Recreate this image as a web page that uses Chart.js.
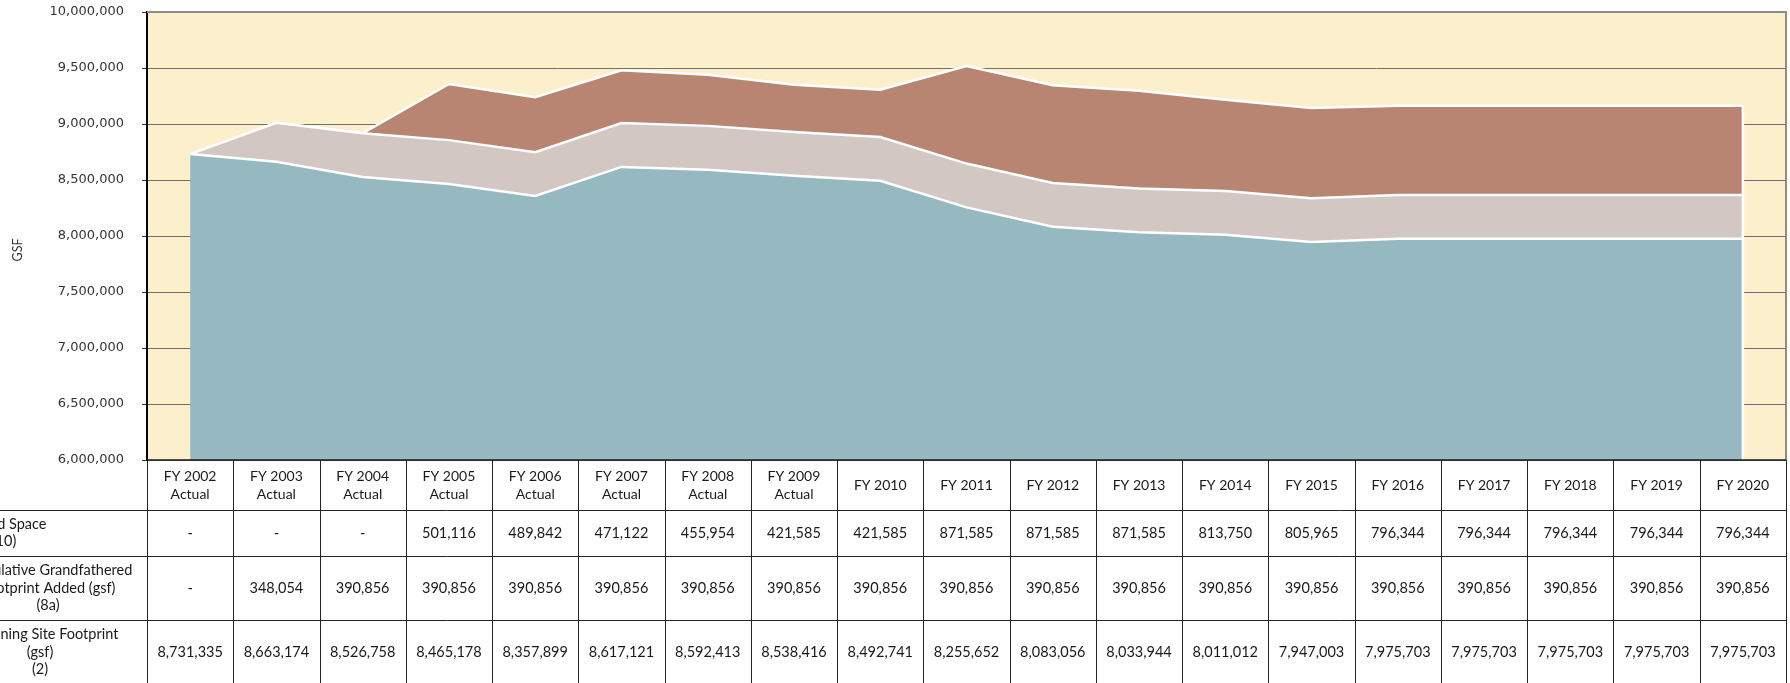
<!DOCTYPE html>
<html>
<head>
<meta charset="utf-8">
<script src="https://cdn.jsdelivr.net/npm/chart.js@4"></script>
<style>
  body { margin: 0; background: #fff; }
  #wrap { position: relative; width: 1790px; height: 683px; overflow: hidden; }
</style>
</head>
<body>
<div id="wrap"><canvas id="chart" width="1790" height="683"></canvas></div>
<script>
// chart data
const years = ['FY 2002', 'FY 2003', 'FY 2004', 'FY 2005', 'FY 2006', 'FY 2007', 'FY 2008', 'FY 2009',
    'FY 2010', 'FY 2011', 'FY 2012', 'FY 2013', 'FY 2014', 'FY 2015', 'FY 2016', 'FY 2017',
    'FY 2018', 'FY 2019', 'FY 2020'];
const actualYears = 8; // first 8 columns are "Actual"

const siteFootprint = [8731335, 8663174, 8526758, 8465178, 8357899, 8617121, 8592413, 8538416,
    8492741, 8255652, 8083056, 8033944, 8011012, 7947003, 7975703, 7975703, 7975703, 7975703, 7975703];
const grandfathered = [0, 348054, 390856, 390856, 390856, 390856, 390856, 390856, 390856, 390856,
    390856, 390856, 390856, 390856, 390856, 390856, 390856, 390856, 390856];
const spaceAdded = [0, 0, 0, 501116, 489842, 471122, 455954, 421585, 421585, 871585, 871585,
    871585, 813750, 805965, 796344, 796344, 796344, 796344, 796344];

const yTicks = [6000000, 6500000, 7000000, 7500000, 8000000, 8500000, 9000000, 9500000, 10000000];

// table rows, top to bottom (labels are cut at the left edge in the original)
const rowLabels = [
    ['Leased Space', '(10)'],
    ['Cumulative Grandfathered', 'Footprint Added (gsf)', '(8a)'],
    ['Remaining Site Footprint', '(gsf)', '(2)']
];
const rowValues = [spaceAdded, grandfathered, siteFootprint];

const fmt = v => v === 0 ? '-' : v.toLocaleString('en-US');

const tableFont = '14.5px Lato';

const backgroundPlugin = {
    id: 'plotBackground',
    beforeDraw(chart) {
        const { ctx, chartArea: a } = chart;
        ctx.save();
        ctx.fillStyle = '#fcf0cc';
        ctx.fillRect(a.left, a.top, a.right - a.left, a.bottom - a.top);
        ctx.restore();
    }
};

const tablePlugin = {
    id: 'dataTable',
    afterDraw(chart) {
        const { ctx, chartArea: a } = chart;
        const x = chart.scales.x;
        const colW = x.getPixelForValue(1) - x.getPixelForValue(0);
        const rowTops = [a.bottom, 510, 556, 620, 700];
        const labelCenters = [4, 48, 40];

        ctx.save();

        // white edge on the right side of the stacked areas
        const yS = chart.scales.y;
        const last = years.length - 1;
        const xl = x.getPixelForValue(last);
        ctx.strokeStyle = '#ffffff';
        ctx.lineWidth = 2.5;
        ctx.beginPath();
        ctx.moveTo(xl, yS.getPixelForValue(siteFootprint[last] + grandfathered[last] + spaceAdded[last]));
        ctx.lineTo(xl, a.bottom);
        ctx.stroke();

        // plot frame: top and right in grey
        ctx.strokeStyle = '#8c8c8c';
        ctx.lineWidth = 2;
        ctx.beginPath();
        ctx.moveTo(a.left, a.top);
        ctx.lineTo(a.right, a.top);
        ctx.lineTo(a.right, a.bottom);
        ctx.stroke();

        // axis title
        ctx.save();
        ctx.translate(18, 250);
        ctx.rotate(-Math.PI / 2);
        ctx.fillStyle = '#333';
        ctx.font = '12.5px Lato';
        ctx.textAlign = 'center';
        ctx.textBaseline = 'middle';
        ctx.fillText('GSF', 0, 0);
        ctx.restore();

        // table lines
        ctx.strokeStyle = '#1a1a1a';
        ctx.lineWidth = 1.5;
        ctx.beginPath();
        ctx.moveTo(a.left, a.bottom);
        ctx.lineTo(a.right, a.bottom);
        ctx.stroke();

        ctx.lineWidth = 1;
        ctx.strokeStyle = '#222';
        for (let r = 1; r < 4; r++) {
            ctx.beginPath();
            ctx.moveTo(0, rowTops[r] + 0.5);
            ctx.lineTo(a.right, rowTops[r] + 0.5);
            ctx.stroke();
        }
        for (let i = 0; i <= years.length; i++) {
            const px = Math.round(x.getPixelForValue(i) - colW / 2) + 0.5;
            ctx.beginPath();
            ctx.moveTo(px, a.bottom);
            ctx.lineTo(px, 683);
            ctx.stroke();
        }

        // header text
        ctx.fillStyle = '#1a1a1a';
        ctx.font = '14px Lato';
        ctx.textAlign = 'center';
        ctx.textBaseline = 'middle';
        const hMid = (rowTops[0] + rowTops[1]) / 2;
        years.forEach((yr, i) => {
            const cx = x.getPixelForValue(i);
            if (i < actualYears) {
                ctx.fillText(yr, cx, hMid - 9);
                ctx.fillText('Actual', cx, hMid + 9);
            } else {
                ctx.fillText(yr, cx, hMid);
            }
        });

        // body rows
        ctx.font = tableFont;
        rowValues.forEach((vals, r) => {
            const mid = (rowTops[r + 1] + Math.min(rowTops[r + 2], 683)) / 2;
            const cy = r === 2 ? 652 : mid;
            vals.forEach((v, i) => ctx.fillText(fmt(v), x.getPixelForValue(i), cy));
            const lines = rowLabels[r];
            const lh = 17.5;
            lines.forEach((t, k) => {
                ctx.fillText(t, labelCenters[r], cy + (k - (lines.length - 1) / 2) * lh);
            });
        });

        ctx.restore();
    }
};

new Chart(document.getElementById('chart'), {
    type: 'line',
    data: {
        labels: years,
        datasets: [
            {
                label: 'Remaining Site Footprint (gsf) (2)',
                data: siteFootprint,
                backgroundColor: '#95b8c1',
                borderColor: '#ffffff',
                borderWidth: 2.5,
                fill: 'origin'
            },
            {
                label: 'Cumulative Grandfathered Footprint Added (gsf) (8a)',
                data: grandfathered,
                backgroundColor: '#d3c7c3',
                borderColor: '#ffffff',
                borderWidth: 2.5,
                fill: '-1'
            },
            {
                label: 'Leased Space (10)',
                data: spaceAdded,
                backgroundColor: '#b78571',
                borderColor: '#ffffff',
                borderWidth: 2.5,
                fill: '-1'
            }
        ]
    },
    options: {
        responsive: false,
        devicePixelRatio: 1,
        animation: false,
        layout: { padding: { top: 12, left: 0, right: 4, bottom: 223 } },
        elements: { point: { radius: 0 }, line: { tension: 0 } },
        plugins: {
            legend: { display: false },
            tooltip: { enabled: false }
        },
        scales: {
            x: {
                display: false,
                offset: true
            },
            y: {
                stacked: true,
                min: 6000000,
                max: 10000000,
                afterFit: scale => {
                    scale.width = 147;
                    scale.paddingTop = 8;
                    scale.paddingBottom = 8;
                },
                afterBuildTicks: scale => { scale.ticks = yTicks.map(v => ({ value: v })); },
                ticks: {
                    color: '#333',
                    padding: 18,
                    font: { family: 'DejaVu Sans', size: 13 },
                    callback: v => v.toLocaleString('en-US')
                },
                grid: { color: '#6e6e6e', lineWidth: 1, tickLength: 5, tickColor: '#333' },
                border: { color: '#000', width: 2 }
            }
        }
    },
    plugins: [backgroundPlugin, tablePlugin]
});
</script>
</body>
</html>
